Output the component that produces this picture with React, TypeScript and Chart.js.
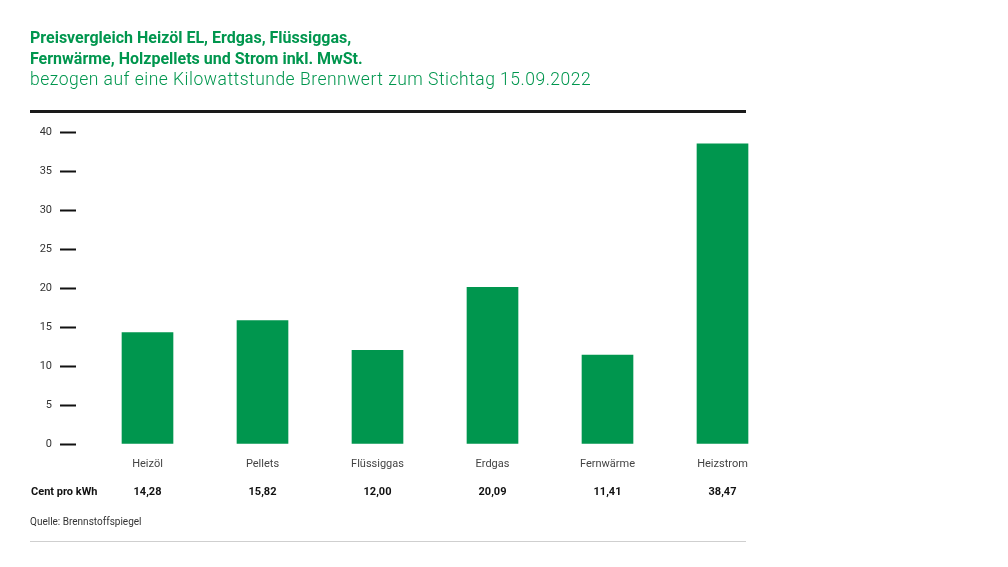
import React, { useEffect, useRef } from "react";
import { Chart, registerables } from "chart.js";

Chart.register(...registerables);

const categories = ["Heizöl", "Pellets", "Flüssiggas", "Erdgas", "Fernwärme", "Heizstrom"];
const values = [14.28, 15.82, 12.0, 20.09, 11.41, 38.47];
const valueLabels = ["14,28", "15,82", "12,00", "20,09", "11,41", "38,47"];
const yTicks = [0, 5, 10, 15, 20, 25, 30, 35, 40];

const GREEN = "#00964e";
const FONT = "Roboto, 'Liberation Sans', sans-serif";

const valueRowPlugin = {
  id: "valueRow",
  afterDraw(chart: any) {
    const ctx = chart.ctx;
    const x = chart.scales.x;
    ctx.save();
    ctx.fillStyle = "#111";
    ctx.font = `bold 11px ${FONT}`;
    ctx.textBaseline = "middle";
    ctx.textAlign = "left";
    ctx.fillText("Cent pro kWh", 31, 492);
    ctx.textAlign = "center";
    valueLabels.forEach((v, i) => {
      ctx.fillText(v, x.getPixelForValue(i), 492);
    });
    ctx.restore();
  },
};

export default function App() {
  const ref = useRef<HTMLCanvasElement>(null);
  useEffect(() => {
    if (!ref.current) return;
    const chart = new Chart(ref.current, {
      type: "bar",
      data: {
        labels: categories,
        datasets: [
          {
            data: values,
            backgroundColor: GREEN,
            barThickness: 51,
          },
        ],
      },
      options: {
        animation: false,
        responsive: false,
        layout: { padding: { top: 132, right: 228, left: 0, bottom: 0 } },
        plugins: { legend: { display: false }, tooltip: { enabled: false } },
        scales: {
          x: {
            grid: { display: false, drawTicks: false },
            border: { display: false },
            ticks: { color: "#444", font: { family: FONT, size: 11 }, padding: 14 },
            afterFit(scale: any) {
              scale.height = 567 - 444;
            },
          },
          y: {
            min: 0,
            max: 40,
            afterBuildTicks(scale: any) {
              scale.ticks = yTicks.map((v) => ({ value: v }));
            },
            afterFit(scale: any) {
              scale.width = 90;
            },
            border: { display: false },
            grid: {
              drawOnChartArea: false,
              drawTicks: true,
              tickLength: 30,
              tickWidth: 2,
              tickColor: "#111",
              tickBorderDash: [16, 30],
            },
            ticks: { color: "#333", font: { family: FONT, size: 11 }, padding: 8 },
          },
        },
      },
      plugins: [valueRowPlugin],
    });
    return () => chart.destroy();
  }, []);

  return (
    <div style={{ position: "fixed", left: 0, top: 0, width: 1008, height: 567, background: "#fff", fontFamily: FONT }}>
      <canvas ref={ref} width={1008} height={567} style={{ position: "absolute", left: 0, top: 0 }} />
      <div style={{ position: "absolute", left: 30, top: 27, color: GREEN, lineHeight: "21px" }}>
        <div style={{ fontWeight: 700, fontSize: 16 }}>Preisvergleich Heizöl EL, Erdgas, Flüssiggas,</div>
        <div style={{ fontWeight: 700, fontSize: 16 }}>Fernwärme, Holzpellets und Strom inkl. MwSt.</div>
        <div style={{ fontWeight: 300, fontSize: 17.5, letterSpacing: "0.5px" }}>bezogen auf eine Kilowattstunde Brennwert zum Stichtag 15.09.2022</div>
      </div>
      <div style={{ position: "absolute", left: 30, top: 110, width: 716, height: 3, background: "#1a1a1a" }} />
      <div style={{ position: "absolute", left: 30, top: 516, fontSize: 10, color: "#333" }}>Quelle: Brennstoffspiegel</div>
      <div style={{ position: "absolute", left: 30, top: 541, width: 716, height: 1, background: "#cfcfcf" }} />
    </div>
  );
}
